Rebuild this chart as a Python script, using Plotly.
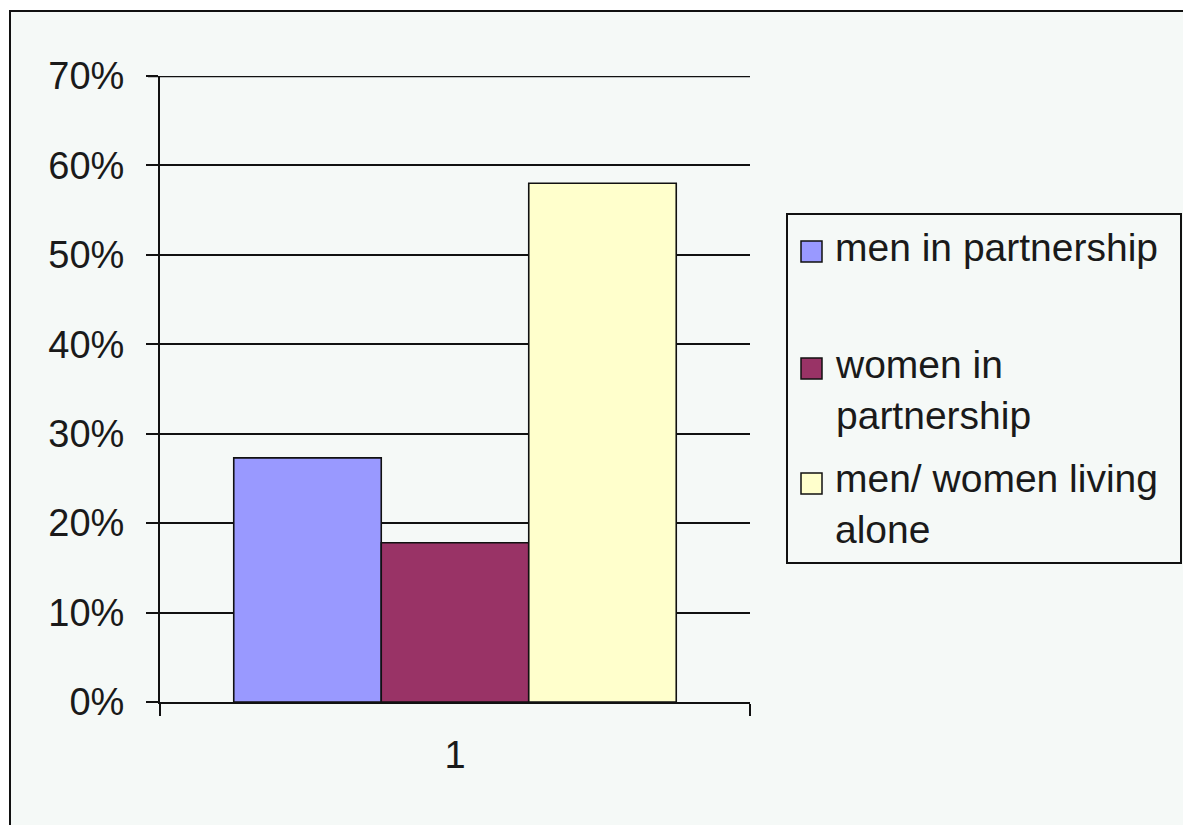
import plotly.graph_objects as go

# ---- data ----
categories = ["1"]
series_names = ["men in partnership", "women in<br>partnership", "men/ women living<br>alone"]
series_values = [[0.273], [0.178], [0.58]]
series_colors = ["#9999FF", "#993366", "#FFFFCC"]
y_ticks = [0, 0.1, 0.2, 0.3, 0.4, 0.5, 0.6, 0.7]

W, H = 1183, 825
L, R, T, B = 160, 750, 76, 702  # plot area in pixels
FONT = "Liberation Sans, Arial, sans-serif"
TXT = "#1a1a1a"


def px(x):
    return (x - L) / (R - L)


def py(y):
    return (B - y) / (B - T)


fig = go.Figure()
for name, vals, col in zip(series_names, series_values, series_colors):
    fig.add_trace(go.Bar(
        x=categories, y=vals, name=name,
        marker=dict(color=col, line=dict(color="#111111", width=1.6)),
        showlegend=False,
    ))

shapes = [
    # outer chart area with border (top/left visible)
    dict(type="rect", xref="paper", yref="paper",
         x0=px(10), x1=px(1200), y0=py(850), y1=py(11),
         fillcolor="#F5F9F7", line=dict(color="#111111", width=2), layer="below"),
    # top gridline at the range edge
    dict(type="line", xref="paper", yref="y",
         x0=px(148), x1=1, y0=y_ticks[-1], y1=y_ticks[-1],
         line=dict(color="#111111", width=2.5)),
    # legend box
    dict(type="rect", xref="paper", yref="paper",
         x0=px(787), x1=px(1181), y0=py(563), y1=py(214),
         fillcolor="rgba(0,0,0,0)", line=dict(color="#111111", width=2)),
]

annotations = []
swatch_tops = [241, 358, 473]
text_tops = [224, 341, 455]
for name, col, st, tt in zip(series_names, series_colors, swatch_tops, text_tops):
    shapes.append(dict(type="rect", xref="paper", yref="paper",
                       x0=px(801), x1=px(822), y0=py(st + 21), y1=py(st),
                       fillcolor=col, line=dict(color="#111111", width=1.5)))
    annotations.append(dict(xref="paper", yref="paper", x=px(833), y=py(tt),
                            xanchor="left", yanchor="top", align="left",
                            text=name, showarrow=False,
                            font=dict(family=FONT, size=39, color=TXT)))

fig.update_layout(
    width=W, height=H,
    margin=dict(l=L, r=W - R, t=T, b=H - B, pad=0),
    paper_bgcolor="white",
    plot_bgcolor="rgba(0,0,0,0)",
    barmode="group", bargap=0.25, bargroupgap=0,
    shapes=shapes, annotations=annotations,
    font=dict(family=FONT, size=38, color=TXT),
    xaxis=dict(type="category", showline=True, linecolor="#111111", linewidth=2,
               ticks="outside", tickson="boundaries", ticklen=12, tickwidth=2,
               tickcolor="#111111", showgrid=False, ticklabelstandoff=18,
               tickfont=dict(family=FONT, size=38, color=TXT), range=[-0.5, 0.5]),
    yaxis=dict(range=[0, 0.7], tickvals=y_ticks, tickformat=".0%",
               showline=True, linecolor="#111111", linewidth=2,
               ticks="outside", ticklen=12, tickwidth=2, tickcolor="#111111",
               showgrid=True, gridcolor="#111111", gridwidth=2,
               zeroline=False, ticklabelstandoff=14,
               tickfont=dict(family=FONT, size=38, color=TXT)),
)

fig.write_html("out.html")
